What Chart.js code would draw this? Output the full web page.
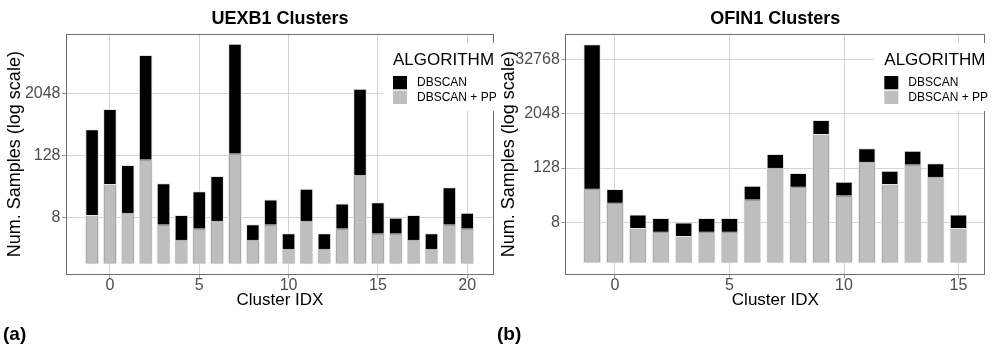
<!DOCTYPE html>
<html>
<head>
<meta charset="utf-8">
<script src="https://cdn.jsdelivr.net/npm/chart.js@4.4.1/dist/chart.umd.min.js"></script>
<style>
  html, body { margin: 0; padding: 0; background: #fff; }
  #wrap { position: relative; width: 992px; height: 360px; overflow: hidden; }
  .panel { position: absolute; top: 0; width: 496px; height: 360px; }
  .tag { position: absolute; top: 324px; font: bold 19px "Liberation Sans", Arial, sans-serif; line-height: 19px; color: #000; }
</style>
</head>
<body>
<div id="wrap">
  <div class="panel" style="left:0"><canvas id="chartA" width="496" height="360"></canvas></div>
  <div class="panel" style="left:496px"><canvas id="chartB" width="496" height="360"></canvas></div>
  <div class="tag" style="left:3px">(a)</div>
  <div class="tag" style="left:497px">(b)</div>
</div>
<script>
const FONT = '"Liberation Sans", Arial, Helvetica, sans-serif';

// Series shared by both panels
const seriesNames = ['DBSCAN', 'DBSCAN + PP'];
const seriesColors = ['#000000', '#bebebe'];

// UEXB1: samples per cluster
const uexb1Clusters = [-1, 0, 1, 2, 3, 4, 5, 6, 7, 8, 9, 10, 11, 12, 13, 14, 15, 16, 17, 18, 19, 20];
const uexb1Dbscan   = [410, 1020, 84, 11300, 37, 9, 26, 51, 18500, 6, 18, 4, 29, 4, 15, 2500, 16, 8, 9, 4, 31, 10];
const uexb1DbscanPP = [9, 36, 10, 108, 6, 3, 5, 7, 141, 3, 6, 2, 7, 2, 5, 54, 4, 4, 3, 2, 6, 5];
const uexb1XTicks = [0, 5, 10, 15, 20];
const uexb1YTicks = [8, 128, 2048];

// OFIN1: samples per cluster
const ofin1Clusters = [-1, 0, 1, 2, 3, 4, 5, 6, 7, 8, 9, 10, 11, 12, 13, 14, 15];
const ofin1Dbscan   = [71000, 44, 12, 10, 8, 10, 10, 52, 262, 100, 1490, 64, 354, 112, 310, 164, 12];
const ofin1DbscanPP = [45, 22, 6, 5, 4, 5, 5, 26, 130, 50, 725, 32, 177, 57, 155, 82, 6];
const ofin1XTicks = [0, 5, 10, 15];
const ofin1YTicks = [8, 128, 2048, 32768];

// Panel frame, centred title and the boxed "ALGORITHM" legend
const panelDecor = {
  id: 'panelDecor',
  afterDatasetsDraw(chart) {
    const { ctx, chartArea: a } = chart;
    ctx.save();
    ctx.strokeStyle = '#6e6e6e';
    ctx.lineWidth = 1;
    ctx.strokeRect(Math.round(a.left) + 0.5, Math.round(a.top) + 0.5,
                   Math.round(a.right - a.left) - 1, Math.round(a.bottom - a.top));
    ctx.restore();
  },
  afterDraw(chart, args, opts) {
    const { ctx, chartArea: a } = chart;
    ctx.save();
    // title
    ctx.fillStyle = '#000';
    ctx.font = 'bold 18px ' + FONT;
    ctx.textAlign = 'center';
    ctx.textBaseline = 'middle';
    ctx.fillText(opts.title, (a.left + a.right) / 2, 19);

    // legend
    const R = a.right;
    ctx.fillStyle = '#fff';
    ctx.fillRect(R - 111, 43, chart.width - (R - 111), 68);
    ctx.fillStyle = '#000';
    ctx.font = '17px ' + FONT;
    ctx.textAlign = 'left';
    ctx.textBaseline = 'alphabetic';
    ctx.fillText('ALGORITHM', R - 101, 65);
    const keyTops = [76, 90.7];
    ctx.font = '12px ' + FONT;
    ctx.textBaseline = 'middle';
    chart.data.datasets.forEach((ds, i) => {
      ctx.fillStyle = ds.backgroundColor;
      ctx.fillRect(R - 101, keyTops[i], 14, 13.3);
      ctx.fillStyle = '#000';
      ctx.fillText(ds.label, R - 77, keyTops[i] + 7);
    });
    ctx.restore();
  }
};

function makeChart(id, cfg) {
  const common = { grouped: false, base: 1, borderWidth: 1, borderColor: '#e4e4e4', borderSkipped: false };
  const toPoints = (vals) => cfg.clusters.map((c, i) => ({ x: c, y: vals[i] }));
  return new Chart(document.getElementById(id), {
    type: 'bar',
    data: {
      datasets: [
        Object.assign({ label: seriesNames[0], data: toPoints(cfg.dbscan), backgroundColor: seriesColors[0], order: 1 }, common),
        Object.assign({ label: seriesNames[1], data: toPoints(cfg.pp), backgroundColor: seriesColors[1], order: 0 }, common)
      ]
    },
    options: {
      responsive: false,
      animation: false,
      events: [],
      layout: { padding: { left: 0, right: cfg.padRight, top: 34, bottom: 45.7 } },
      datasets: { bar: { categoryPercentage: 1, barPercentage: 0.76 } },
      plugins: {
        legend: { display: false },
        title: { display: false },
        tooltip: { enabled: false },
        panelDecor: { title: cfg.title }
      },
      scales: {
        x: {
          type: 'linear',
          min: cfg.xMin, max: cfg.xMax,
          bounds: 'data',
          offset: false,
          grid: { offset: false, color: '#d4d4d4', lineWidth: 1, tickColor: '#9c9c9c', tickLength: 4, tickWidth: 1 },
          border: { display: false },
          ticks: {
            color: '#4d4d4d', font: { family: FONT, size: 16 }, padding: -2,
            maxRotation: 0, autoSkip: false, callback: (v) => String(v)
          },
          afterBuildTicks: (axis) => { axis.ticks = cfg.xTicks.map((v) => ({ value: v })); },
          afterFit: (axis) => { axis.height = 40; },
          title: { display: true, text: 'Cluster IDX', color: '#000', font: { family: FONT, size: 17 }, padding: { top: 0, bottom: 4 } }
        },
        y: {
          type: 'logarithmic',
          min: cfg.yMin, max: cfg.yMax,
          bounds: 'data',
          grid: { color: '#d4d4d4', lineWidth: 1, tickColor: '#9c9c9c', tickLength: 4, tickWidth: 1 },
          border: { display: false },
          ticks: {
            color: '#4d4d4d', font: { family: FONT, size: 16 }, padding: 1.5,
            autoSkip: false, callback: (v) => String(v)
          },
          afterBuildTicks: (axis) => { axis.ticks = cfg.yTicks.map((v) => ({ value: v })); },
          afterFit: (axis) => { axis.width = cfg.yAxisWidth; },
          title: { display: true, text: 'Num. Samples (log scale)', color: '#000', font: { family: FONT, size: 18 }, padding: { top: cfg.yTitlePad, bottom: 0 } }
        }
      }
    },
    plugins: [panelDecor]
  });
}

makeChart('chartA', {
  title: 'UEXB1 Clusters',
  clusters: uexb1Clusters, dbscan: uexb1Dbscan, pp: uexb1DbscanPP,
  xTicks: uexb1XTicks, yTicks: uexb1YTicks,
  xMin: -2.46, xMax: 21.5,
  yMin: Math.pow(2, -0.64), yMax: Math.pow(2, 14.81),
  yAxisWidth: 66, padRight: 2, yTitlePad: 4.2
});

makeChart('chartB', {
  title: 'OFIN1 Clusters',
  clusters: ofin1Clusters, dbscan: ofin1Dbscan, pp: ofin1DbscanPP,
  xTicks: ofin1XTicks, yTicks: ofin1YTicks,
  xMin: -2.17, xMax: 16.17,
  yMin: Math.pow(2, -0.82), yMax: Math.pow(2, 16.87),
  yAxisWidth: 69.3, padRight: 6.7, yTitlePad: 2.4
});
</script>
</body>
</html>
